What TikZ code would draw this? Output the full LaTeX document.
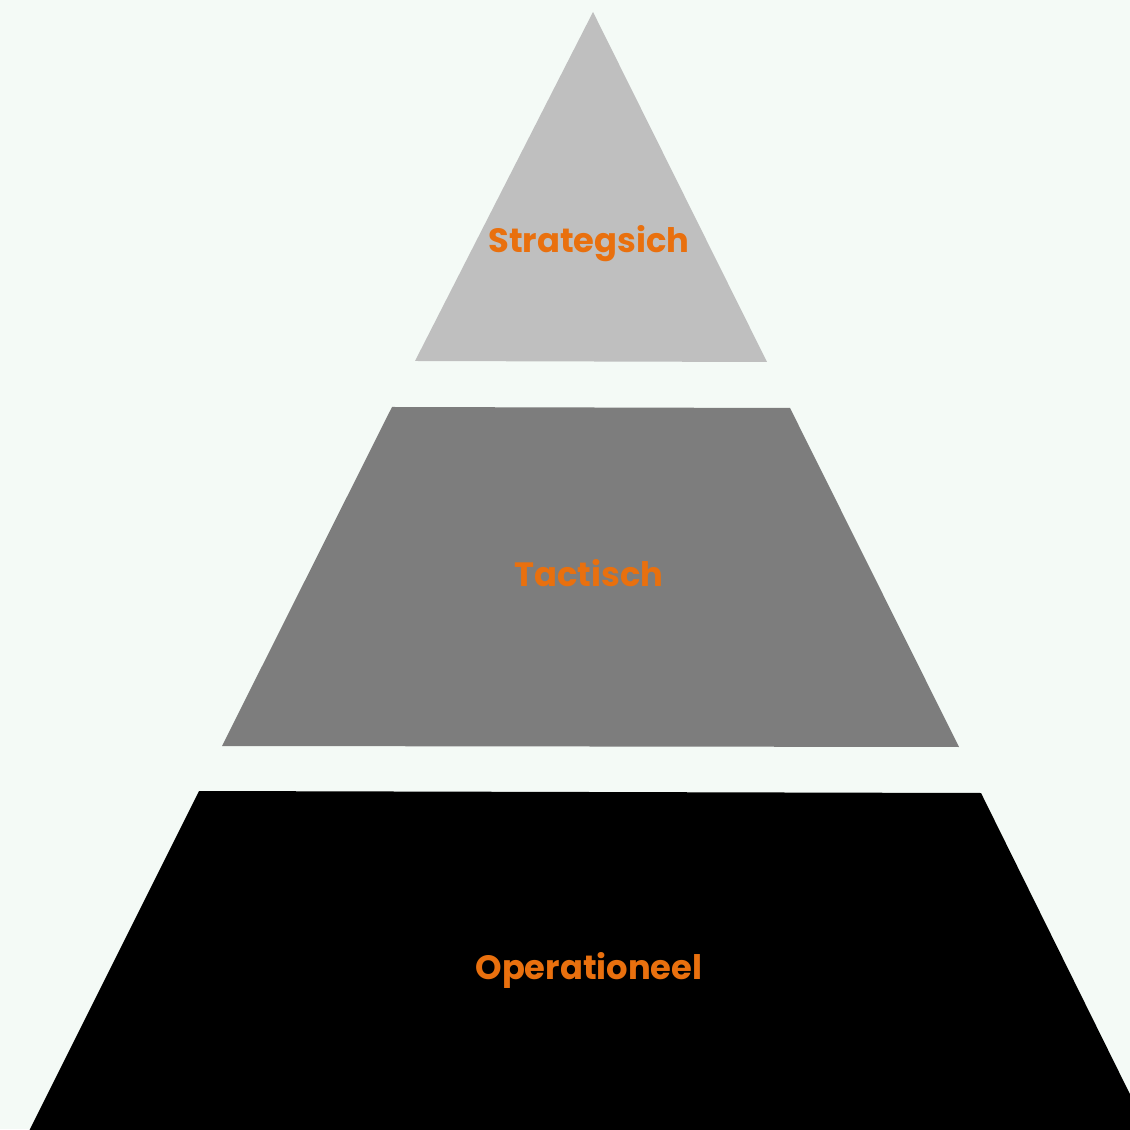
\documentclass[tikz,border=0pt]{standalone}
\usepackage{fontspec}
\newfontfamily\pyrfont{Poppins}
\definecolor{fond}{HTML}{F4FAF6}
\definecolor{niveauA}{HTML}{BFBFBF}
\definecolor{niveauB}{HTML}{7D7D7D}
\definecolor{niveauC}{HTML}{000000}
\definecolor{texte}{HTML}{E9700E}
\tikzset{
  label niveau/.style={text=texte, font=\pyrfont\bfseries\fontsize{9.6}{11}\selectfont}
}
\begin{document}
\begin{tikzpicture}
    % Fond
    \fill[fond] (0, 0) rectangle (11.30, 11.29);
    \useasboundingbox (0, 0) rectangle (11.30, 11.29);
    \clip (0, 0) rectangle (11.30, 11.29);

    % Niveau strategique
    \fill[niveauA] (5.93, 11.17) -- (7.67, 7.67) -- (4.15, 7.68) -- cycle;
    \node[label niveau] (strat) at (5.89, 8.85) {Strategsich};

    % Niveau tactique
    \fill[niveauB] (3.92, 7.22) -- (7.90, 7.21) -- (9.59, 3.82) -- (2.22, 3.83)
    -- cycle;
    \node[label niveau] (tact) at (5.89, 5.56) {Tactisch};

    % Niveau operationnel
    \fill[niveauC] (1.99, 3.38) -- (9.81, 3.36) -- (11.62, -0.30) -- (0.15, -0.30)
    -- cycle;
    \node[label niveau] (oper) at (5.89, 1.59) {Operationeel};
  \end{tikzpicture}
\end{document}
